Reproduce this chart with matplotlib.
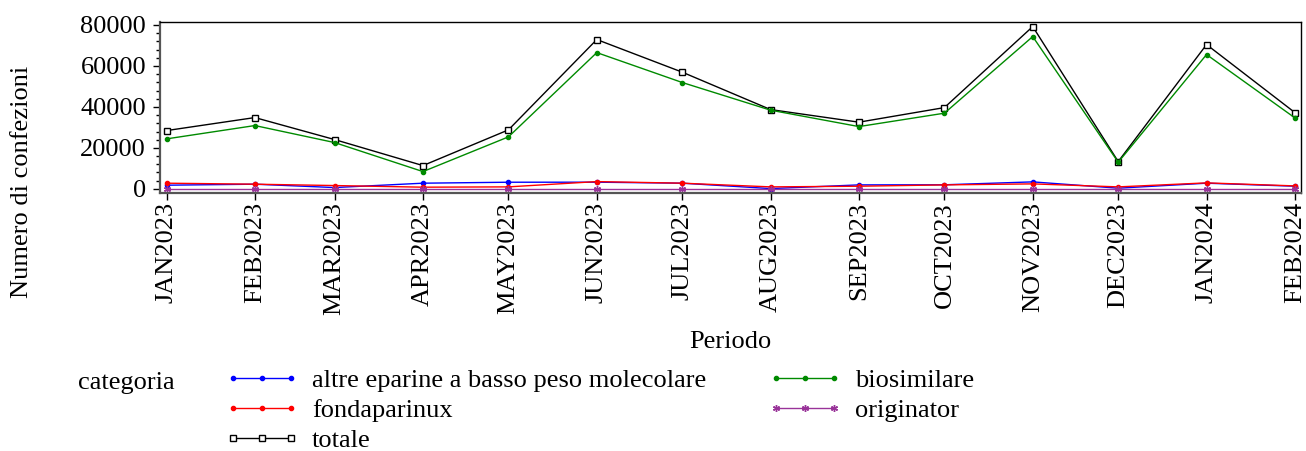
import numpy as np
import pandas as pd
import matplotlib
matplotlib.use("Agg")
import matplotlib.pyplot as plt
from matplotlib.ticker import MultipleLocator, AutoMinorLocator

plt.rc("font", family="Liberation Serif", size=19)

# data
periodi = ["JAN2023", "FEB2023", "MAR2023", "APR2023", "MAY2023", "JUN2023", "JUL2023",
           "AUG2023", "SEP2023", "OCT2023", "NOV2023", "DEC2023", "JAN2024", "FEB2024"]
altre = [1800, 2290, 650, 2780, 3250, 3270, 2780, 150, 1950, 2000, 3420, 340, 2780, 1300]
fondaparinux = [2780, 2290, 1630, 830, 980, 3560, 2780, 980, 1300, 1950, 2440, 980, 2930, 1460]
biosimilare = [24400, 30900, 22600, 8440, 25380, 66500, 51900, 38400, 30400, 36940, 74320,
               13000, 65540, 34650]
originator = [100, 100, 100, 100, 100, 100, 100, 100, 100, 100, 100, 100, 100, 100]
totale = [28450, 34800, 24060, 11370, 28800, 72870, 56950, 38700, 32550, 39670, 79200,
          13330, 70420, 37240]

dates = pd.to_datetime(periodi, format="%b%Y")

fig = plt.figure(figsize=(13.06, 4.51), dpi=100)
ax = fig.add_axes([0.1225, 0.573, 0.874, 0.379])

ax.plot(dates, altre, "-o", color="#0000ff", lw=1, ms=3, label="altre eparine a basso peso molecolare")
ax.plot(dates, fondaparinux, "-o", color="#ff0000", lw=1, ms=3, label="fondaparinux")
ax.plot(dates, totale, "-s", color="black", lw=1, ms=5, mfc="white", mew=1, label="totale")
ax.plot(dates, biosimilare, "-o", color="#008a00", lw=1, ms=3, label="biosimilare")
ax.plot(dates, originator, "-", marker=(6, 2, 0), color="#993399", lw=1, ms=5, mew=1,
        label="originator")

pad = pd.Timedelta(days=2.3)
ax.set_xlim(dates[0] - pad, dates[-1] + pad)
ax.set_ylim(-1800, 81600)
ax.set_xticks(dates)
ax.set_xticklabels(periodi, rotation=90)
ax.yaxis.set_major_locator(MultipleLocator(20000))
ax.yaxis.set_minor_locator(AutoMinorLocator(5))
ax.tick_params(axis="both", which="major", length=5, width=1, pad=2)
ax.tick_params(axis="y", which="major", pad=5)
ax.tick_params(axis="y", which="minor", length=3, width=1)

for s in ["left", "bottom"]:
    ax.spines[s].set_color("#555555")
    ax.spines[s].set_linewidth(1.6)
for s in ["top", "right"]:
    ax.spines[s].set_color("black")
    ax.spines[s].set_linewidth(1)

ax.set_ylabel("Numero di confezioni")
ax.yaxis.set_label_coords(-0.111, 0.063)
ax.set_xlabel("Periodo")
ax.xaxis.set_label_coords(0.5, -0.81)

fig.text(78 / 1306, 1 - 383 / 451, "categoria", va="center", ha="left")
handles, labels = ax.get_legend_handles_labels()
fig.legend(handles, labels, ncol=2, loc="upper left", bbox_to_anchor=(225 / 1306, 1 - 369 / 451),
           frameon=False, numpoints=3, handlelength=2.8, handletextpad=0.5,
           columnspacing=2.35, labelspacing=0.24, borderpad=0, borderaxespad=0)

fig.savefig("out.png", dpi=100)
